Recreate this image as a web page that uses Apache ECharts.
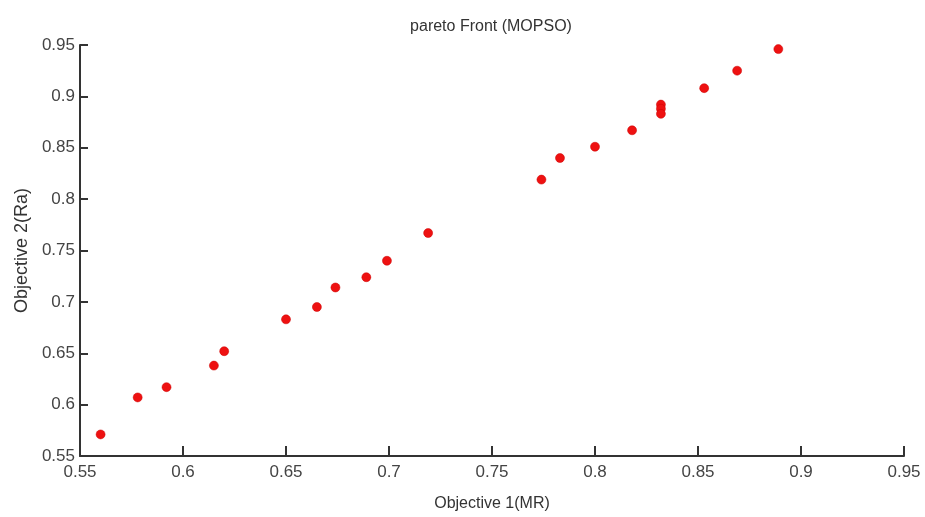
<!DOCTYPE html>
<html>
<head>
<meta charset="utf-8">
<script src="https://cdn.jsdelivr.net/npm/echarts@6/dist/echarts.min.js"></script>
<style>
html,body{margin:0;padding:0;background:#fff;}
#chart{width:925px;height:517px;}
</style>
</head>
<body>
<div id="chart"></div>
<script>
const objective1MR = [0.560, 0.578, 0.592, 0.615, 0.620, 0.650, 0.665, 0.674, 0.689, 0.699, 0.719, 0.774, 0.783, 0.800, 0.818, 0.832, 0.832, 0.832, 0.853, 0.869, 0.889];
const objective2Ra = [0.571, 0.607, 0.617, 0.638, 0.652, 0.683, 0.695, 0.714, 0.724, 0.740, 0.767, 0.819, 0.840, 0.851, 0.867, 0.892, 0.888, 0.883, 0.908, 0.925, 0.946];
const titleText = 'pareto Front (MOPSO)';
const xName = 'Objective 1(MR)';
const yName = 'Objective 2(Ra)';

const points = objective1MR.map((x, i) => [x, objective2Ra[i]]);
const font = '"Liberation Sans", Arial, sans-serif';
const labelFmt = v => String(Math.round(v * 100) / 100);

const chart = echarts.init(document.getElementById('chart'), null, {renderer: 'canvas'});
chart.setOption({
  backgroundColor: '#ffffff',
  animation: false,
  title: {
    text: titleText,
    left: 486, top: 14, textAlign: 'center',
    textStyle: {fontFamily: font, fontSize: 16, fontWeight: 'normal', color: '#333'}
  },
  grid: {left: 80, right: 21, top: 45, bottom: 60, containLabel: false},
  xAxis: {
    type: 'value', min: 0.55, max: 0.95, interval: 0.05,
    name: xName, nameLocation: 'middle', nameGap: 40,
    nameTextStyle: {fontFamily: font, fontSize: 16, color: '#333'},
    axisLine: {show: true, lineStyle: {color: '#333', width: 2}},
    axisTick: {show: true, inside: true, length: 10, lineStyle: {color: '#333', width: 2}},
    axisLabel: {fontFamily: font, fontSize: 17, color: '#444', margin: 8, formatter: labelFmt},
    splitLine: {show: false}
  },
  yAxis: {
    type: 'value', min: 0.55, max: 0.95, interval: 0.05,
    name: yName, nameLocation: 'middle', nameGap: 48, nameRotate: 90,
    nameTextStyle: {fontFamily: font, fontSize: 18, color: '#333'},
    axisLine: {show: true, lineStyle: {color: '#333', width: 2}},
    axisTick: {show: true, inside: true, length: 8, lineStyle: {color: '#333', width: 2}},
    axisLabel: {fontFamily: font, fontSize: 17, color: '#444', margin: 5, formatter: labelFmt},
    splitLine: {show: false}
  },
  series: [{
    type: 'scatter',
    data: points,
    symbol: 'circle',
    symbolSize: 9,
    itemStyle: {color: '#ee1111', borderColor: '#cc0000', borderWidth: 0.5, opacity: 1}
  }]
});
</script>
</body>
</html>
